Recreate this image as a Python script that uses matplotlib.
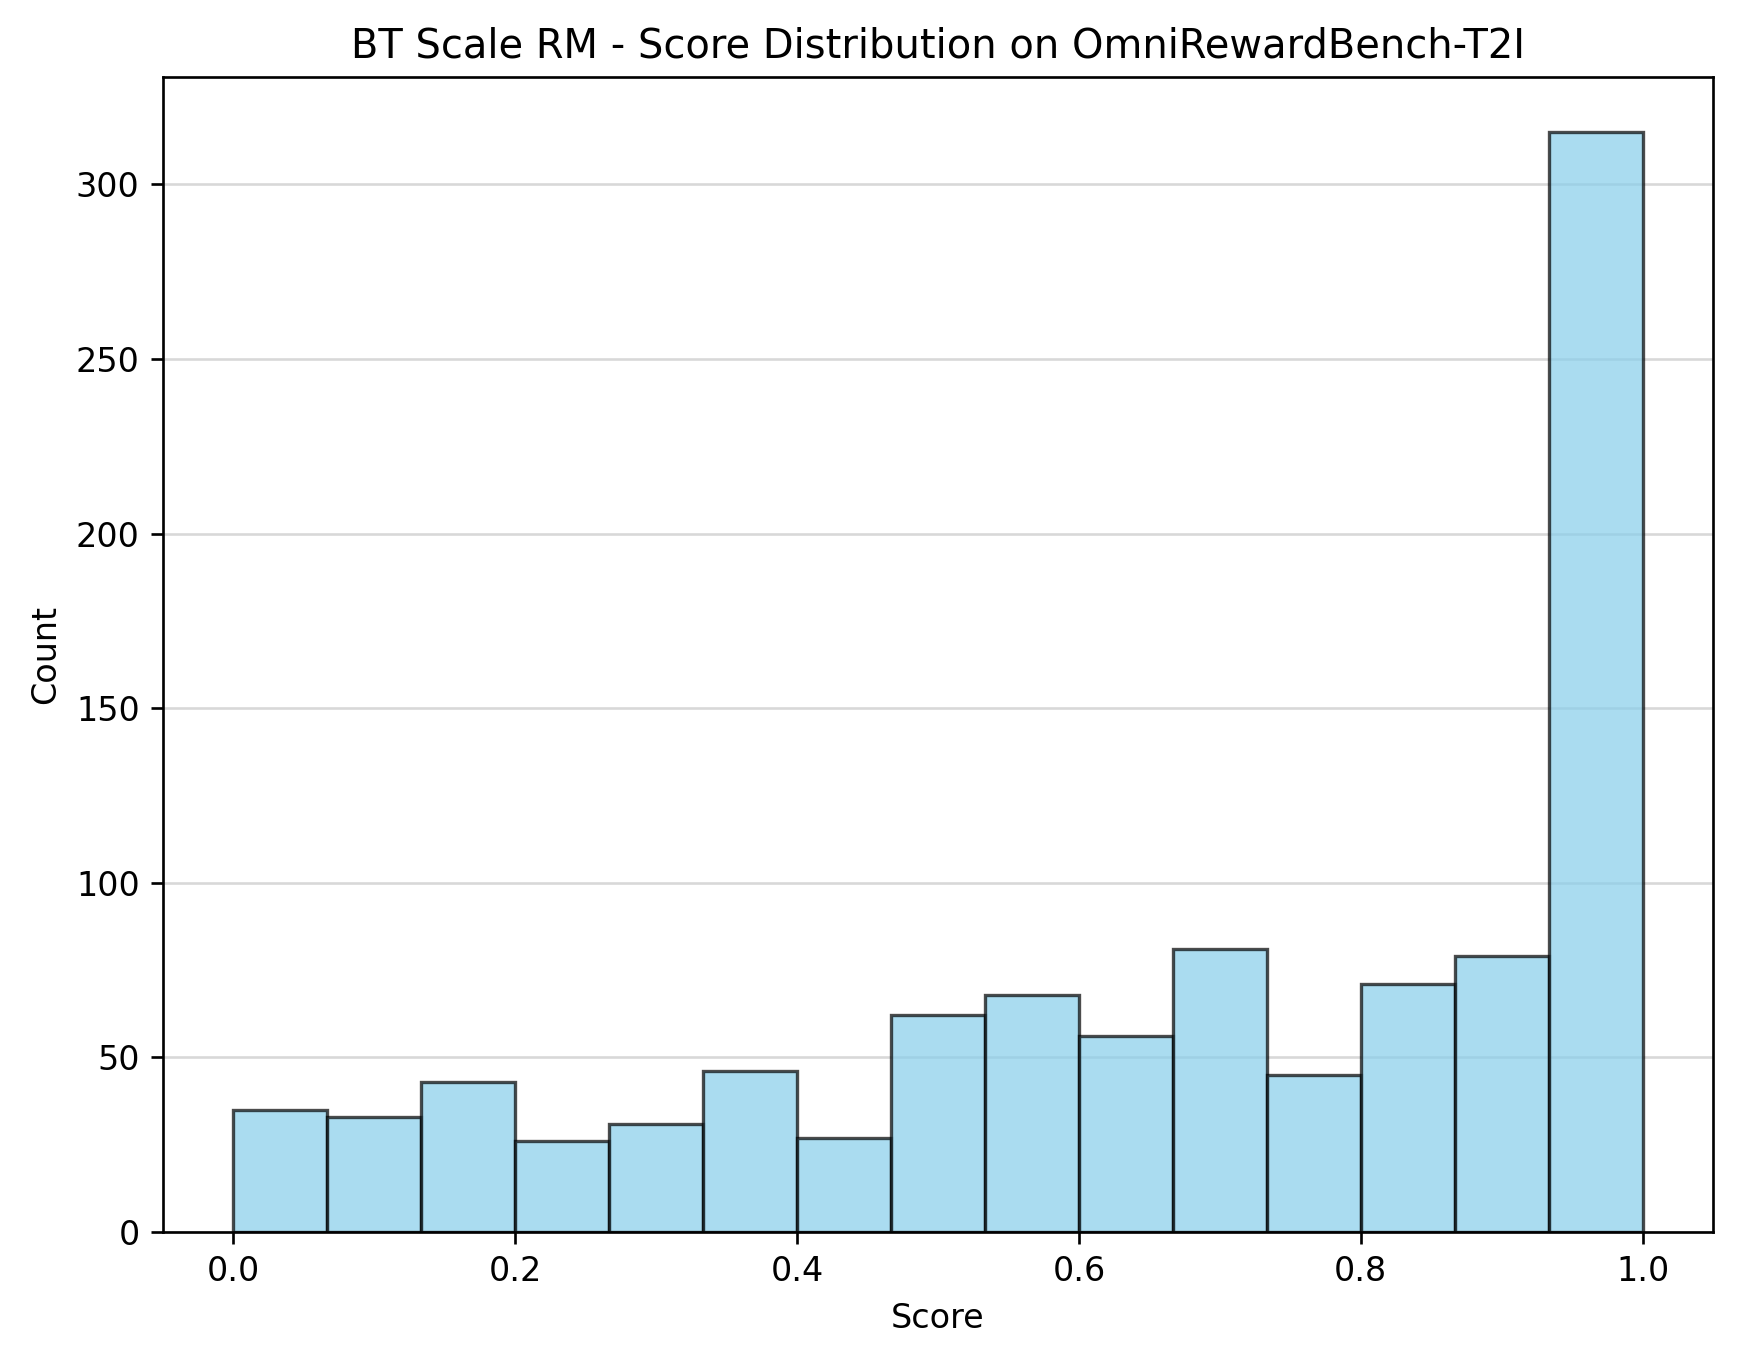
import numpy as np
import matplotlib
matplotlib.use("Agg")
import matplotlib.pyplot as plt

bin_edges = np.linspace(0.0, 1.0, 16)
counts = [35, 33, 43, 26, 31, 46, 27, 62, 68, 56, 81, 45, 71, 79, 315]

W, H, DPI = 1739, 1363, 240
fig = plt.figure(figsize=(W/DPI, H/DPI), dpi=DPI)
ax = fig.add_axes([163/W, 1-1232/H, (1713-163)/W, (1232-77)/H])

centers = (bin_edges[:-1] + bin_edges[1:]) / 2
ax.hist(centers, bins=bin_edges, weights=counts, color='skyblue',
        edgecolor='black', alpha=0.7, linewidth=1.0, zorder=2)
ax.grid(axis='y', alpha=0.75, color='#cccccc', linewidth=0.8, zorder=0)
ax.set_axisbelow(True)
ax.set_title('BT Scale RM - Score Distribution on OmniRewardBench-T2I', fontsize=12)
ax.set_xlabel('Score')
ax.set_ylabel('Count')

fig.savefig('out.png', dpi=DPI)
